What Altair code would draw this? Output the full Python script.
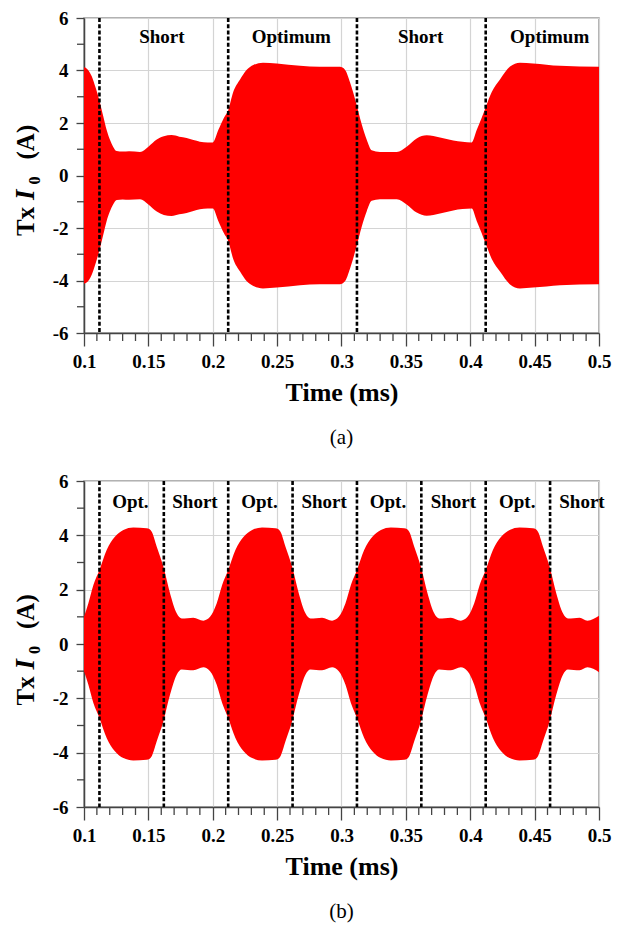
import altair as alt
import pandas as pd

# ---------------- data ----------------
# panel (a): envelope amplitude of Tx I0 (A) vs time (ms)
t_a = [0.1000, 0.1020, 0.1060, 0.1090, 0.1120, 0.1150, 0.1176, 0.1200, 0.1226, 0.1254,
       0.1300, 0.1350, 0.1435, 0.1500, 0.1565, 0.1620, 0.1680, 0.1740, 0.1797, 0.1850,
       0.1900, 0.1960, 0.2000, 0.2043, 0.2087, 0.2121, 0.2159, 0.2212, 0.2264, 0.2315,
       0.2390, 0.2497, 0.2678, 0.2830, 0.2988, 0.3027, 0.3066, 0.3118, 0.3157, 0.3196,
       0.3234, 0.3299, 0.3429, 0.3506, 0.3584, 0.3662, 0.3765, 0.3868, 0.4011, 0.4050,
       0.4089, 0.4122, 0.4167, 0.4231, 0.4309, 0.4386, 0.4488, 0.4697, 0.5000]
amp_a = [4.12, 4.08, 3.78, 3.35, 2.85, 2.25, 1.73, 1.38, 1.10, 0.93,
         0.91, 0.92, 0.90, 1.10, 1.37, 1.50, 1.54, 1.48, 1.43, 1.35,
         1.29, 1.26, 1.26, 1.73, 2.20, 2.50, 3.18, 3.66, 4.03, 4.21,
         4.30, 4.27, 4.18, 4.14, 4.14, 4.03, 3.55, 2.68, 1.95, 1.36,
         0.96, 0.90, 0.90, 1.10, 1.41, 1.53, 1.45, 1.33, 1.26, 1.73,
         2.20, 2.63, 3.18, 3.66, 4.15, 4.30, 4.27, 4.18, 4.14]

# panel (b)
t_b = [0.1000, 0.1034, 0.1073, 0.1120, 0.1176, 0.1240, 0.1306, 0.1383, 0.1487, 0.1510,
       0.1526, 0.1565, 0.1616, 0.1668, 0.1720, 0.1759, 0.1849, 0.1927, 0.1979,
       0.2031, 0.2073, 0.2120, 0.2176, 0.2240, 0.2306, 0.2383, 0.2487, 0.2510,
       0.2526, 0.2565, 0.2616, 0.2668, 0.2720, 0.2759, 0.2849, 0.2927, 0.2979,
       0.3031, 0.3073, 0.3120, 0.3176, 0.3240, 0.3306, 0.3383, 0.3487, 0.3510,
       0.3526, 0.3565, 0.3616, 0.3668, 0.3720, 0.3759, 0.3849, 0.3927, 0.3979,
       0.4031, 0.4073, 0.4120, 0.4176, 0.4240, 0.4306, 0.4383, 0.4487, 0.4510,
       0.4526, 0.4565, 0.4616, 0.4668, 0.4720, 0.4759, 0.4849, 0.4910, 0.5000]
amp_b = [1.00, 1.50, 2.17, 2.72, 3.46, 3.95, 4.20, 4.29, 4.26, 4.22,
         4.13, 3.58, 2.85, 1.87, 1.13, 0.94, 0.97, 0.86, 1.00,
         1.50, 2.17, 2.72, 3.46, 3.95, 4.20, 4.29, 4.26, 4.22,
         4.13, 3.58, 2.85, 1.87, 1.13, 0.94, 0.97, 0.86, 1.00,
         1.50, 2.17, 2.72, 3.46, 3.95, 4.20, 4.29, 4.26, 4.22,
         4.13, 3.58, 2.85, 1.87, 1.13, 0.94, 0.97, 0.86, 1.00,
         1.50, 2.17, 2.72, 3.46, 3.95, 4.20, 4.29, 4.26, 4.22,
         4.13, 3.58, 2.85, 1.87, 1.13, 0.94, 0.97, 0.86, 1.04]

dash_a = [0.112, 0.212, 0.312, 0.412]
lab_a = ["Short", "Optimum", "Short", "Optimum"]
lab_t_a = [0.1605, 0.261, 0.3615, 0.4617]
lab_y_a = 5.27

dash_b = [0.112, 0.162, 0.212, 0.262, 0.312, 0.362, 0.412, 0.462]
lab_b = ["Opt.", "Short", "Opt.", "Short", "Opt.", "Short", "Opt.", "Short"]
lab_t_b = [0.136, 0.1862, 0.2363, 0.2865, 0.3361, 0.3869, 0.4365, 0.4868]
lab_y_b = 5.24

x_major = [0.1, 0.15, 0.2, 0.25, 0.3, 0.35, 0.4, 0.45, 0.5]
x_minor = [0.11, 0.12, 0.13, 0.14, 0.16, 0.17, 0.18, 0.19, 0.21, 0.22, 0.23, 0.24,
           0.26, 0.27, 0.28, 0.29, 0.31, 0.32, 0.33, 0.34, 0.36, 0.37, 0.38, 0.39,
           0.41, 0.42, 0.43, 0.44, 0.46, 0.47, 0.48, 0.49]
y_major = [-6, -4, -2, 0, 2, 4, 6]
y_minor = [-5, -3, -1, 1, 3, 5]

x_title = "Time (ms)"
y_title_parts = ["Tx", "I", "0", "(A)"]
captions = ["(a)", "(b)"]

FONT = "Liberation Serif"
AX = "#444444"
W = 515

XSC = alt.Scale(domain=[0.1, 0.5], nice=False, zero=False)
YSC = alt.Scale(domain=[-6, 6], nice=False, zero=False)
XAXIS = alt.Axis(values=x_major, labelExpr="format(datum.value, '.2~f')",
                 title=x_title, titleFont=FONT, titleFontSize=26, titleFontWeight="bold",
                 titleColor="black", titlePadding=8,
                 labelFont=FONT, labelFontSize=19, labelFontWeight="bold", labelColor="black",
                 labelPadding=6, labelFlush=False, labelOverlap=False,
                 tickSize=13, tickColor=AX, tickWidth=1.3,
                 domainColor=AX, domainWidth=1.5,
                 grid=True, gridColor="#d4d4d4", gridWidth=1.2)
YAXIS = alt.Axis(values=y_major, labelExpr="toString(datum.value)", title="",
                 labelFont=FONT, labelFontSize=19, labelFontWeight="bold", labelColor="black",
                 labelPadding=8, labelFlush=False, labelOverlap=False,
                 tickSize=8, tickColor=AX, tickWidth=1.3,
                 domainColor=AX, domainWidth=1.5,
                 grid=True, gridColor="#d4d4d4", gridWidth=1.2)


def X(f):
    return alt.X(f, type="quantitative", scale=XSC, axis=XAXIS)


def Y(f):
    return alt.Y(f, type="quantitative", scale=YSC, axis=YAXIS)


def panel(t, amp, dashes, labs, lab_t, lab_y, H, caption, ty_center):
    df = pd.DataFrame({"t": t, "up": amp, "lo": [-a for a in amp]})
    area = alt.Chart(df).mark_area(color="#ff0000", interpolate="monotone", opacity=1).encode(
        x=X("t"), y=Y("up"), y2="lo:Q")
    dash = alt.Chart(pd.DataFrame({"t": dashes, "up": [6] * len(dashes), "lo": [-6] * len(dashes)})
                     ).mark_rule(color="black", strokeDash=[4, 2.2], strokeWidth=2.6).encode(
        x=X("t"), y=Y("up"), y2="lo:Q")
    text = alt.Chart(pd.DataFrame({"t": lab_t, "s": labs, "up": [lab_y] * len(labs)})).mark_text(
        font=FONT, fontSize=19, fontWeight="bold", color="black", baseline="middle").encode(
        x=X("t"), y=Y("up"), text="s:N")
    mx = alt.Chart(pd.DataFrame({"t": x_minor})).mark_rule(color=AX, strokeWidth=1.3).encode(
        x=X("t"), y=alt.value(H), y2=alt.value(H + 8))
    my = alt.Chart(pd.DataFrame({"up": y_minor})).mark_rule(color=AX, strokeWidth=1.3).encode(
        y=Y("up"), x=alt.value(-7), x2=alt.value(0))
    # y-axis title composed of pieces: "Tx" "I"(italic) "0"(subscript) "(A)"
    c = ty_center
    pieces = [
        (y_title_parts[0], 25, "normal", -50, c + 56.5),
        (y_title_parts[1], 27, "italic", -50, c + 20.5),
        (y_title_parts[2], 16, "normal", -44, c + 5),
        (y_title_parts[3], 25, "normal", -50, c - 20),
    ]
    tl = []
    for s, fs, st, px, py in pieces:
        tl.append(alt.Chart(pd.DataFrame({"s": [s]})).mark_text(
            font=FONT, fontSize=fs, fontWeight="bold", fontStyle=st, color="black",
            angle=270, align="left", baseline="alphabetic").encode(
            text="s:N", x=alt.value(px), y=alt.value(py)))
    cap = alt.Chart(pd.DataFrame({"s": [caption]})).mark_text(
        font=FONT, fontSize=21, fontWeight="normal", color="black", baseline="middle").encode(
        text="s:N", x=alt.value(W / 2), y=alt.value(H + 105))
    return alt.layer(area, dash, text, mx, my, *tl, cap).properties(width=W, height=H)


Ha = 315
Hb = 326
pa = panel(t_a, amp_a, dash_a, lab_a, lab_t_a, lab_y_a, Ha, captions[0], Ha / 2 + 4)
pb = panel(t_b, amp_b, dash_b, lab_b, lab_t_b, lab_y_b, Hb, captions[1], Hb / 2 + 5)

chart = alt.vconcat(pa, pb, spacing=22).properties(
    padding={"left": 3, "top": 0, "right": 5, "bottom": 0}
).configure_view(stroke="#999999", strokeWidth=1.5)

chart.save("out.html", embed_options={"renderer": "svg", "actions": False})
